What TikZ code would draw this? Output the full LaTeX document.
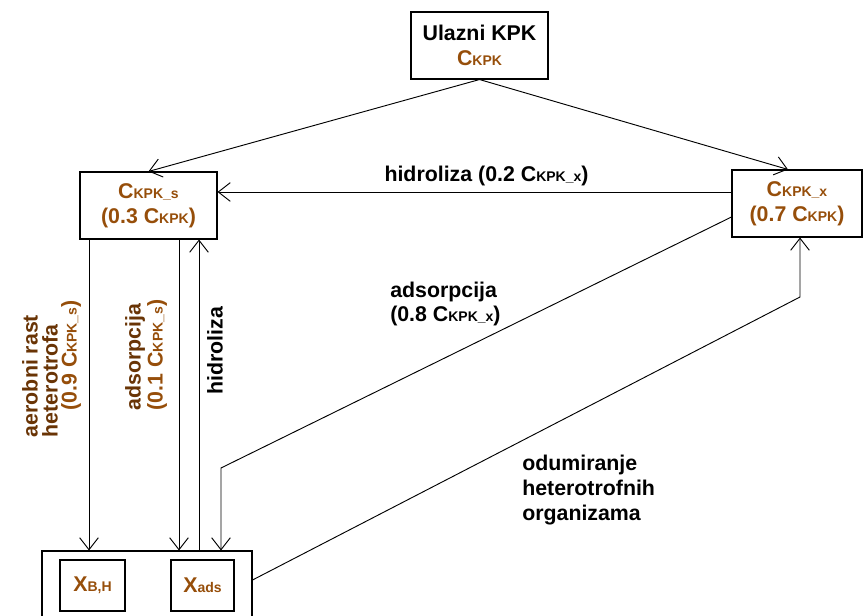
\documentclass[tikz,border=0pt]{standalone}
\usepackage{fontspec}
\setmainfont{Liberation Sans}
\usetikzlibrary{positioning,arrows.meta}
\newdimen\pxu
\pxu=0.75pt
\definecolor{kpkbrown}{RGB}{150,78,10}
\definecolor{darkbrown}{RGB}{105,52,5}
\newcommand\sml[1]{{\fontsize{10.5}{12}\selectfont #1}}
\newcommand\kpk[1]{C\sml{KPK#1}}

\begin{document}
\begin{tikzpicture}[
    x=0.75pt, y=-0.75pt,
    font=\fontsize{16}{19}\selectfont\bfseries,
    box/.style={%
      draw,
      rectangle,
      line width=0.8pt,
      align=center,
      inner sep=0pt,
    },
    lbl/.style={%
      inner sep=0pt,
      align=left,
    },
    arr/.style={%
      -{Straight Barb[length=9pt,width=14pt]},
      line width=0.7pt,
    },
  ]
    \useasboundingbox (0,0) rectangle (863,616);

    \node [box, minimum width=137\pxu, minimum height=67\pxu] (ulaz) at (479.5,45.5)
      {Ulazni KPK\\\textcolor{kpkbrown}{\kpk{}}};
    \node [box, text=kpkbrown, minimum width=137\pxu, minimum height=67\pxu] (ckpks) at (148.5,205.5)
      {\kpk{\_s}\\(0.3 \kpk{})};
    \node [box, text=kpkbrown, minimum width=130\pxu, minimum height=67\pxu] (ckpkx) at (797,203.5)
      {\kpk{\_x}\\(0.7 \kpk{})};
    \node [box, minimum width=210\pxu, minimum height=99\pxu] (bio) at (147,600.5) {};
    \node [box, text=kpkbrown, minimum width=65\pxu, minimum height=51\pxu] (xbh) at (92.5,585.5) {X\sml{B,H}};
    \node [box, text=kpkbrown, minimum width=63\pxu, minimum height=51\pxu] (xads) at (202.5,585.5) {X\sml{ads}};

    \coordinate (xaer) at (89,0);
    \coordinate (xadsa) at (179,0);
    \coordinate (xhid) at (199,0);
    \coordinate (kneeads) at (221,468);
    \coordinate (kneeodu) at (800,297);

    \draw [arr] (ulaz.south) -- (ckpks.north);
    \draw [arr] (ulaz.south) -- ([xshift=-9\pxu]ckpkx.north);
    \draw [arr] ([yshift=11.5\pxu]ckpkx.west) -- ([yshift=11.5\pxu]ckpkx.west -| ckpks.east)
      node [lbl, midway, above=4pt, xshift=9pt] (lhid) {hidroliza (0.2 \kpk{\_x})};
    \draw [arr] (ckpks.south -| xaer) -- (bio.north -| xaer);
    \draw [arr] (ckpks.south -| xadsa) -- (bio.north -| xadsa);
    \draw [arr] (bio.north -| xhid) -- (ckpks.south -| xhid);
    \draw [arr] ([yshift=-13.5\pxu]ckpkx.west) -- (kneeads) -- (bio.north -| kneeads);
    \draw [arr] ([yshift=20.5\pxu]bio.east) -- (kneeodu) -- (ckpkx.south -| kneeodu);

    \node [lbl, rotate=90, text=darkbrown, font=\fontsize{16}{15}\selectfont\bfseries] (laer) at (40,376)
      {aerobni rast\\heterotrofa};
    \node [lbl, rotate=90, text=kpkbrown] (laerb) at (71,355.5) {(0.9 \kpk{\_s})};
    \node [lbl, rotate=90, text=darkbrown, font=\fontsize{16}{16.5}\selectfont\bfseries] (lads) at (146,355)
      {adsorpcija\\\textcolor{kpkbrown}{(0.1 \kpk{\_s})}};
    \node [lbl, rotate=90] (lhidv) at (215,351) {hidroliza};
    \node [lbl, anchor=north west, font=\fontsize{16}{18}\selectfont\bfseries] (ladsx) at (390,282)
      {adsorpcija\\(0.8 \kpk{\_x})};
    \node [lbl, anchor=north west, font=\fontsize{16}{18.75}\selectfont\bfseries] (lodu) at (522,455)
      {odumiranje\\heterotrofnih\\organizama};

\end{tikzpicture}
\end{document}
